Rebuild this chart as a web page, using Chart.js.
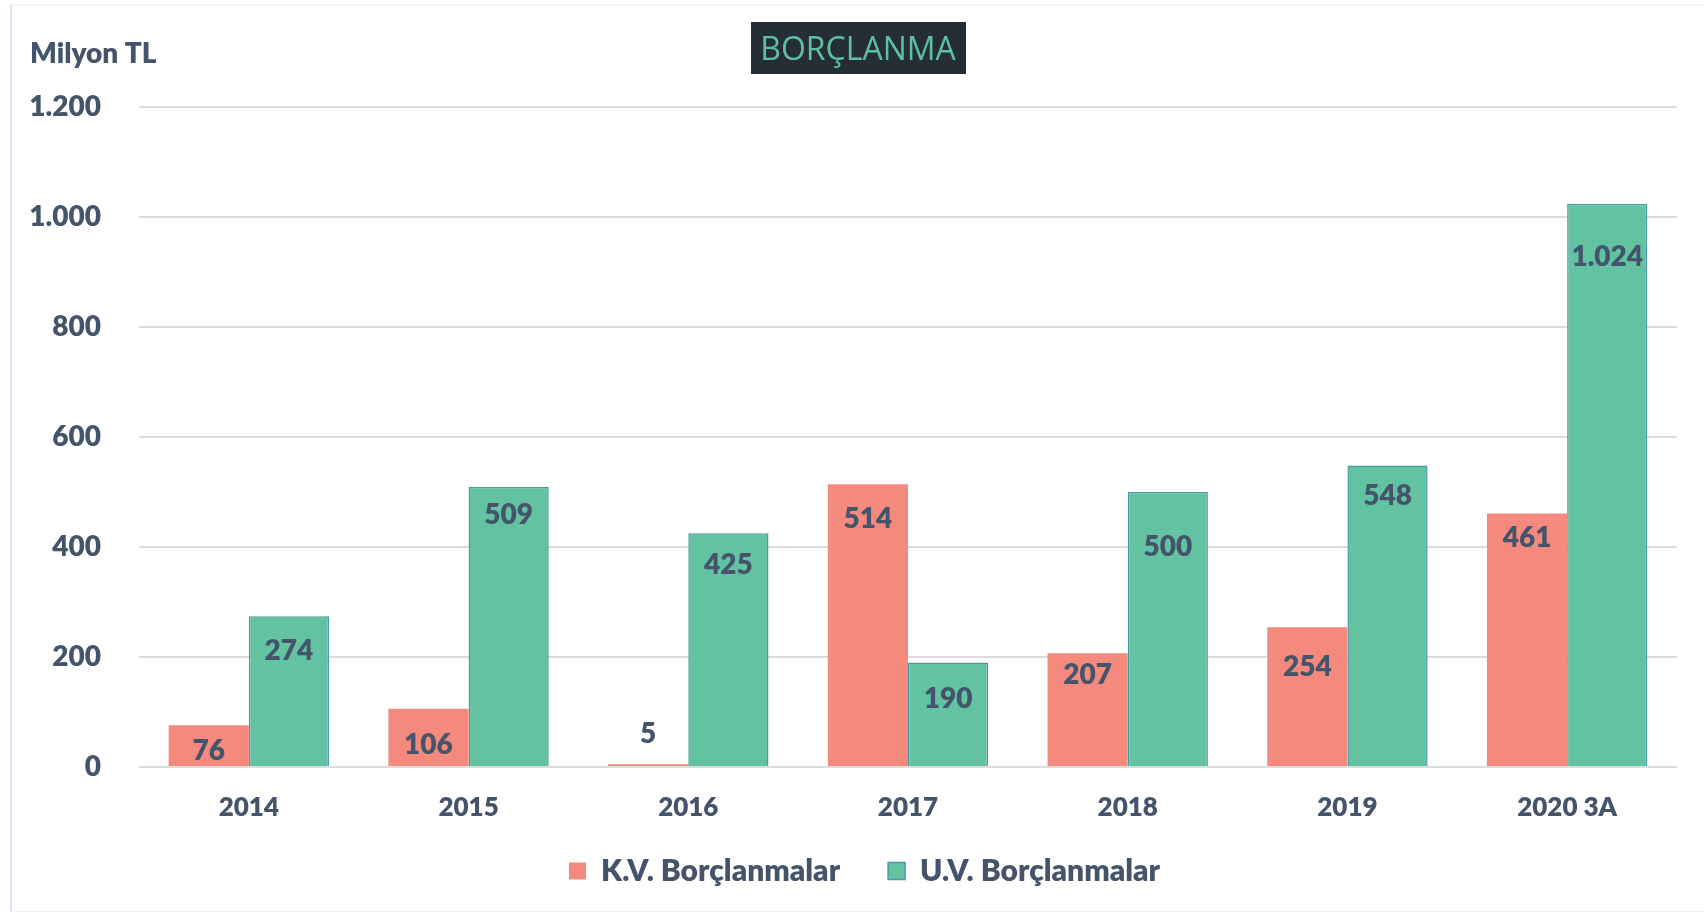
<!DOCTYPE html>
<html>
<head>
<meta charset="utf-8">
<script src="https://cdn.jsdelivr.net/npm/chart.js@4"></script>
<style>
  html, body { margin: 0; padding: 0; background: #fff; }
  #wrap { position: relative; width: 1704px; height: 913px; }
  #frame { position: absolute; left: 10px; top: 4px; right: 0; bottom: 1px;
           border-left: 2px solid #d3e3f3; border-top: 2px solid #f1f5fa; border-bottom: 1px solid #f3f3f3; }
  canvas { position: absolute; left: 0; top: 0; }
</style>
</head>
<body>
<div id="wrap">
  <div id="frame"></div>
  <canvas id="chart" width="1704" height="913"></canvas>
</div>
<script>
// chart data
const years = ['2014', '2015', '2016', '2017', '2018', '2019', '2020 3A'];
const kvBorc = [76, 106, 5, 514, 207, 254, 461];
const uvBorc = [274, 509, 425, 190, 500, 548, 1024];
const yTicks = [0, 200, 400, 600, 800, 1000, 1200];

// label offset from bar top in px (the source placed them by hand)
const kvLabelOffset = [26, 36, -30, 35, 22, 40, 25];
const uvLabelOffset = [35, 28, 32, 36, 55, 30, 53];

const textColor = '#44546a';
const fontFamily = 'Lato, "Open Sans", sans-serif';
const heavy = '800';

// turkish number format: 1.024
function fmt(v) {
  return v.toString().replace(/\B(?=(\d{3})+(?!\d))/g, '.');
}

// draws value labels, title and unit text
const labelsPlugin = {
  id: 'valueLabels',
  afterLayout(chart) {
    // legend sits a bit right of centre and closer to the axis in the original
    const lg = chart.legend;
    lg.left += 26; lg.right += 26;
    lg.top -= 16; lg.bottom -= 16;
  },
  afterDatasetsDraw(chart) {
    const ctx = chart.ctx;
    const offsets = [kvLabelOffset, uvLabelOffset];
    ctx.save();
    ctx.font = heavy + ' 28px ' + fontFamily;
    ctx.fillStyle = textColor;
    ctx.textAlign = 'center';
    ctx.textBaseline = 'middle';
    chart.data.datasets.forEach((ds, i) => {
      const meta = chart.getDatasetMeta(i);
      meta.data.forEach((bar, j) => {
        ctx.fillText(fmt(ds.data[j]), bar.x, bar.y + offsets[i][j]);
      });
    });
    ctx.restore();
  },
  afterDraw(chart) {
    const ctx = chart.ctx;
    ctx.save();
    // unit label
    ctx.font = heavy + ' 28px ' + fontFamily;
    ctx.fillStyle = textColor;
    ctx.textAlign = 'left';
    ctx.textBaseline = 'middle';
    ctx.fillText('Milyon TL', 30, 54);
    // title box
    ctx.fillStyle = '#252d37';
    ctx.fillRect(751, 22, 215, 52);
    ctx.font = '32px "Open Sans", sans-serif';
    ctx.fillStyle = '#5cc19f';
    ctx.textAlign = 'center';
    ctx.fillText('BORÇLANMA', 858, 51);
    ctx.restore();
  }
};

new Chart(document.getElementById('chart'), {
  type: 'bar',
  data: {
    labels: years,
    datasets: [
      {
        label: 'K.V. Borçlanmalar',
        data: kvBorc,
        backgroundColor: '#f48a7d',
        borderWidth: 0,
        barPercentage: 1.0,
        categoryPercentage: 0.73,
      },
      {
        label: 'U.V. Borçlanmalar',
        data: uvBorc,
        backgroundColor: '#62c2a2',
        borderColor: '#4b9aa3',
        borderWidth: 1.5,
        barPercentage: 1.0,
        categoryPercentage: 0.73,
      },
    ],
  },
  options: {
    responsive: false,
    animation: false,
    layout: { padding: { top: 107, right: 27, left: 0, bottom: 1 } },
    plugins: {
      title: { display: false },
      tooltip: { enabled: false },
      legend: {
        position: 'bottom',
        labels: {
          color: textColor,
          font: { family: fontFamily, size: 30, weight: heavy },
          boxWidth: 17,
          boxHeight: 17,
          padding: 48,
        },
      },
    },
    scales: {
      x: {
        grid: { display: false },
        border: { display: false },
        ticks: {
          color: textColor,
          font: { family: fontFamily, size: 26, weight: heavy },
          padding: 17,
        },
        afterFit(scale) { scale.height = 57; },
      },
      y: {
        min: 0,
        max: 1200,
        afterBuildTicks(scale) { scale.ticks = yTicks.map(v => ({ value: v })); },
        grid: { color: '#dcdcdc', lineWidth: 2, drawTicks: false },
        border: { display: false },
        ticks: {
          color: textColor,
          font: { family: fontFamily, size: 28, weight: heavy },
          padding: 38,
          callback: v => fmt(v),
        },
        afterFit(scale) { scale.width = 139; },
      },
    },
  },
  plugins: [labelsPlugin],
});
</script>
</body>
</html>
